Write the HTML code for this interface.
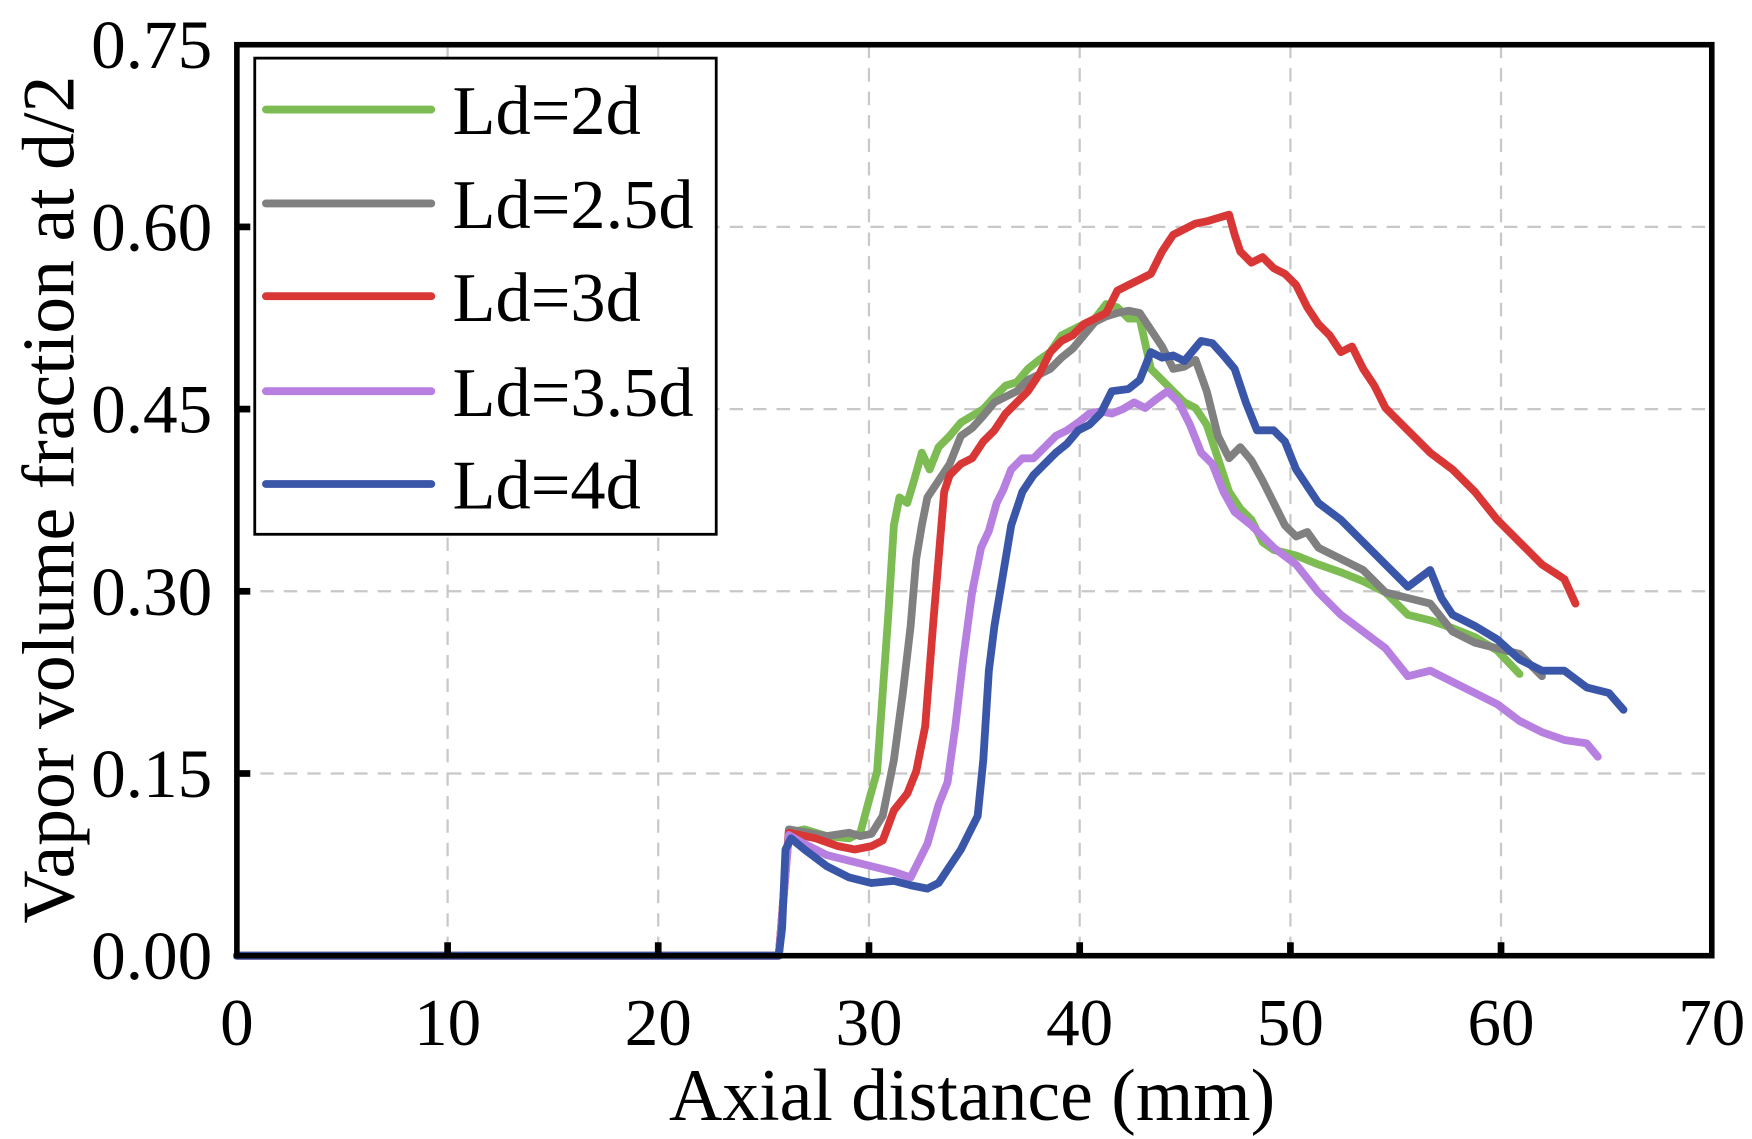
<!DOCTYPE html>
<html><head><meta charset="utf-8"><style>html,body{margin:0;padding:0;background:#fff}svg{display:block}</style></head>
<body>
<svg width="1752" height="1139" viewBox="0 0 1568 1019" preserveAspectRatio="none" xmlns="http://www.w3.org/2000/svg" font-family="Liberation Serif, serif">
<rect width="1568" height="1019" fill="#fff"/>
<g stroke="#c8c8c8" stroke-width="2" stroke-dasharray="12,9">
<line x1="400.6" y1="40" x2="400.6" y2="855"/><line x1="589.1" y1="40" x2="589.1" y2="855"/><line x1="777.7" y1="40" x2="777.7" y2="855"/><line x1="966.3" y1="40" x2="966.3" y2="855"/><line x1="1154.9" y1="40" x2="1154.9" y2="855"/><line x1="1343.4" y1="40" x2="1343.4" y2="855"/>
<line x1="212" y1="203" x2="1532" y2="203"/><line x1="212" y1="366" x2="1532" y2="366"/><line x1="212" y1="529" x2="1532" y2="529"/><line x1="212" y1="692" x2="1532" y2="692"/>
</g>
<g fill="none" stroke-width="7" stroke-linejoin="round" stroke-linecap="round">
<polyline stroke="#7dbb53" points="212,855 697,855 706,745 720,742 740,748 760,750 770,745 778,715 785,690 790,620 795,550 800,470 805,445 812,450 818,430 825,405 832,420 840,400 850,390 860,378 870,372 880,366 890,355 900,345 910,342 920,330 930,322 940,315 950,300 960,295 970,290 980,285 990,272 1000,275 1010,285 1020,285 1030,330 1040,340 1050,350 1060,360 1070,365 1080,380 1090,410 1100,440 1110,455 1120,465 1130,485 1140,492 1160,497 1180,505 1200,512 1220,520 1240,530 1260,550 1280,555 1300,562 1320,570 1340,582 1360,603"/>
<polyline stroke="#808080" points="212,855 697,855 706,742 740,748 760,745 770,748 780,746 790,730 800,680 808,620 815,560 820,500 825,470 830,445 840,430 850,415 860,390 870,383 880,372 890,360 900,355 910,350 920,340 930,335 940,330 950,320 960,312 970,300 980,288 990,283 1000,280 1010,278 1020,280 1030,295 1040,310 1050,330 1060,328 1070,322 1080,350 1090,390 1100,410 1110,400 1120,412 1130,430 1140,450 1150,470 1160,480 1170,476 1180,490 1200,500 1220,510 1240,530 1260,535 1280,540 1300,565 1320,575 1340,580 1360,585 1380,605"/>
<polyline stroke="#d93636" points="212,855 697,855 706,745 730,750 750,757 765,760 780,757 790,752 800,725 812,710 820,690 828,650 835,560 840,500 845,440 850,425 855,420 860,415 870,410 880,395 890,385 900,370 910,360 920,350 930,335 940,315 950,305 960,300 970,290 980,285 990,280 1000,260 1010,255 1020,250 1030,245 1040,225 1050,210 1060,205 1070,200 1080,198 1090,195 1100,192 1105,210 1110,225 1120,235 1130,230 1140,240 1150,245 1160,255 1170,275 1180,290 1190,300 1200,315 1210,310 1220,330 1230,345 1240,365 1260,385 1280,405 1300,420 1320,440 1340,465 1360,485 1380,505 1400,518 1410,540"/>
<polyline stroke="#b77fe0" points="212,855 697,855 706,747 720,755 740,765 760,770 780,775 800,780 815,785 820,775 830,755 840,720 848,700 855,650 862,590 870,530 878,490 885,475 892,450 898,438 905,420 915,410 925,410 935,400 945,390 955,385 965,378 975,370 985,368 995,370 1005,366 1015,360 1025,365 1035,357 1045,350 1055,360 1065,380 1075,405 1085,415 1095,440 1105,458 1120,470 1140,490 1160,505 1180,530 1200,550 1220,565 1240,580 1260,605 1280,600 1300,610 1320,620 1340,630 1360,645 1380,655 1400,662 1420,665 1430,677"/>
<polyline stroke="#3a56a8" points="212,855 697,855 700,830 703,760 708,750 720,760 740,775 760,785 780,790 800,788 815,792 830,795 840,790 850,775 860,760 870,740 875,730 880,680 885,600 890,560 895,530 905,470 915,440 925,425 935,415 945,405 955,397 965,385 975,380 985,370 995,350 1010,348 1020,340 1030,315 1040,320 1050,318 1060,323 1075,305 1085,307 1095,318 1105,330 1115,360 1125,385 1140,385 1150,395 1160,420 1180,450 1200,465 1220,485 1240,505 1260,525 1280,510 1290,535 1300,550 1320,560 1340,572 1360,590 1380,600 1400,600 1420,615 1440,620 1453,635"/>
</g>
<g stroke="#000" stroke-width="6">
<line x1="400.6" y1="855" x2="400.6" y2="843"/><line x1="589.1" y1="855" x2="589.1" y2="843"/><line x1="777.7" y1="855" x2="777.7" y2="843"/><line x1="966.3" y1="855" x2="966.3" y2="843"/><line x1="1154.9" y1="855" x2="1154.9" y2="843"/><line x1="1343.4" y1="855" x2="1343.4" y2="843"/>
<line x1="212" y1="203" x2="224" y2="203"/><line x1="212" y1="366" x2="224" y2="366"/><line x1="212" y1="529" x2="224" y2="529"/><line x1="212" y1="692" x2="224" y2="692"/>
</g>
<rect x="212" y="40" width="1320" height="815" fill="none" stroke="#000" stroke-width="5"/>
<rect x="228" y="52" width="413" height="426" fill="#fff" stroke="#000" stroke-width="2.5"/>
<g stroke-width="7" stroke-linecap="round">
<line x1="238" y1="98" x2="386" y2="98" stroke="#7dbb53"/>
<line x1="238" y1="182" x2="386" y2="182" stroke="#808080"/>
<line x1="238" y1="265" x2="386" y2="265" stroke="#d93636"/>
<line x1="238" y1="350" x2="386" y2="350" stroke="#b77fe0"/>
<line x1="238" y1="433" x2="386" y2="433" stroke="#3a56a8"/>
</g>
<g font-size="63" fill="#000">
<text x="405" y="120">Ld=2d</text>
<text x="405" y="204">Ld=2.5d</text>
<text x="405" y="287">Ld=3d</text>
<text x="405" y="372">Ld=3.5d</text>
<text x="405" y="455">Ld=4d</text>
</g>
<g font-size="62" fill="#000" text-anchor="end">
<text x="190" y="61">0.75</text><text x="190" y="224">0.60</text><text x="190" y="387">0.45</text><text x="190" y="550">0.30</text><text x="190" y="713">0.15</text><text x="190" y="876">0.00</text>
</g>
<g font-size="60" fill="#000" text-anchor="middle">
<text x="212" y="935">0</text><text x="400.6" y="935">10</text><text x="589.1" y="935">20</text><text x="777.7" y="935">30</text><text x="966.3" y="935">40</text><text x="1154.9" y="935">50</text><text x="1343.4" y="935">60</text><text x="1532" y="935">70</text>
</g>
<g font-size="66" fill="#000" text-anchor="middle">
<text x="870" y="1002">Axial distance (mm)</text>
<text transform="translate(66,447) rotate(-90)">Vapor volume fraction at d/2</text>
</g>
</svg>
</body></html>
